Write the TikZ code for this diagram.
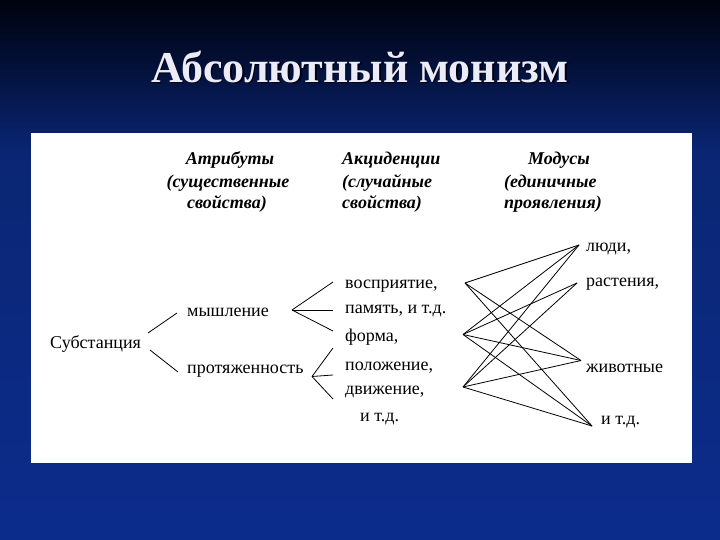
\documentclass[tikz,border=0pt]{standalone}
\usepackage{fontspec}
\setmainfont{Liberation Serif}
\definecolor{bgbot}{RGB}{12,44,140}
\definecolor{bgmid}{RGB}{10,38,115}
\definecolor{bgupper}{RGB}{3,16,56}
\definecolor{bgtop}{RGB}{0,2,12}
\definecolor{titlecol}{RGB}{236,236,248}
\definecolor{titleshadow}{RGB}{0,0,20}
\pgfdeclareverticalshading{slidebg}{100bp}{%
  color(0bp)=(bgbot); color(25bp)=(bgbot); color(61bp)=(bgmid);
  color(69bp)=(bgupper); color(75bp)=(bgtop); color(100bp)=(bgtop)}
\tikzset{
  body/.style={font=\fontsize{18}{21}\selectfont, inner sep=0pt, anchor=base west, text=black},
  hdr/.style={font=\fontsize{18}{22}\bfseries\itshape\selectfont, inner sep=0pt, anchor=base west, text=black},
  hdrc/.style={hdr, anchor=base},
  link/.style={draw=black, line width=0.8pt},
  titletext/.style={font=\fontsize{44}{50}\bfseries\selectfont, inner sep=0pt, anchor=base}
}
\begin{document}
\begin{tikzpicture}[x=1pt,y=-1pt]
\useasboundingbox (0,0) rectangle (720,540);
\shade[shading=slidebg] (0,0) rectangle (720,540);
\fill[white] (31,133) rectangle (692,463);

% title
\node[titletext, text=titleshadow] (titleshadow) at (361.5,84) {Абсолютный монизм};
\node[titletext, text=titlecol] (title) at (360,82.5) {Абсолютный монизм};

% headers
\node[hdrc] (h1a) at (230,165) {Атрибуты};
\node[hdrc] (h1b) at (228,188) {(существенные};
\node[hdrc] (h1c) at (227,209) {свойства)};
\node[hdr] (h2a) at (342,165) {Акциденции};
\node[hdr] (h2b) at (342,188) {(случайные};
\node[hdr] (h2c) at (342,209) {свойства)};
\node[hdr] (h3a) at (528,165) {Модусы};
\node[hdr] (h3b) at (504,188) {(единичные};
\node[hdr] (h3c) at (504,209) {проявления)};

% left tree
\node[body] (sub) at (50,348) {Субстанция};
\node[body] (think) at (187,316) {мышление};
\node[body] (ext) at (187,373) {протяженность};

\node[body] (a1) at (345,288.5) {восприятие,};
\node[body] (a2) at (345,313.5) {память, и т.д.};
\node[body] (a3) at (345,341.5) {форма,};
\node[body] (a4) at (345,370.5) {положение,};
\node[body] (a5) at (345,394.5) {движение,};
\node[body] (a6) at (360,421.5) {и т.д.};

\node[body] (m1) at (586,251.5) {люди,};
\node[body] (m2) at (586,286.5) {растения,};
\node[body] (m3) at (586,372.5) {животные};
\node[body] (m4) at (601,424.5) {и т.д.};

% connector points
\coordinate (s1) at (148,333);
\coordinate (s1e) at (177,313);
\coordinate (s2) at (150,350);
\coordinate (s2e) at (178,372);
\coordinate (ft) at (292,310);
\coordinate (ft1) at (333,282);
\coordinate (ft2) at (333,310);
\coordinate (ft3) at (333,331);
\coordinate (fe) at (312,376.5);
\coordinate (fe1) at (333,348);
\coordinate (fe2) at (333,375);
\coordinate (fe3) at (333,399);

\coordinate (T) at (465,283);
\coordinate (M) at (463,334.5);
\coordinate (B) at (463,387);
\coordinate (L1) at (579,245);
\coordinate (L2) at (577,283);
\coordinate (L3) at (581,360.5);
\coordinate (L4) at (592,426);

\draw[link] (s1) -- (s1e);
\draw[link] (s2) -- (s2e);
\draw[link] (ft) -- (ft1);
\draw[link] (ft) -- (ft2);
\draw[link] (ft) -- (ft3);
\draw[link] (fe) -- (fe1);
\draw[link] (fe) -- (fe2);
\draw[link] (fe) -- (fe3);

\draw[link] (T) -- (L1);
\draw[link] (T) -- (L3);
\draw[link] (T) -- (L4);
\draw[link] (M) -- (L1);
\draw[link] (M) -- (L2);
\draw[link] (M) -- (L3);
\draw[link] (M) -- (L4);
\draw[link] (B) -- (L1);
\draw[link] (B) -- (L2);
\draw[link] (B) -- (L3);
\draw[link] (B) -- (L4);
\end{tikzpicture}
\end{document}
